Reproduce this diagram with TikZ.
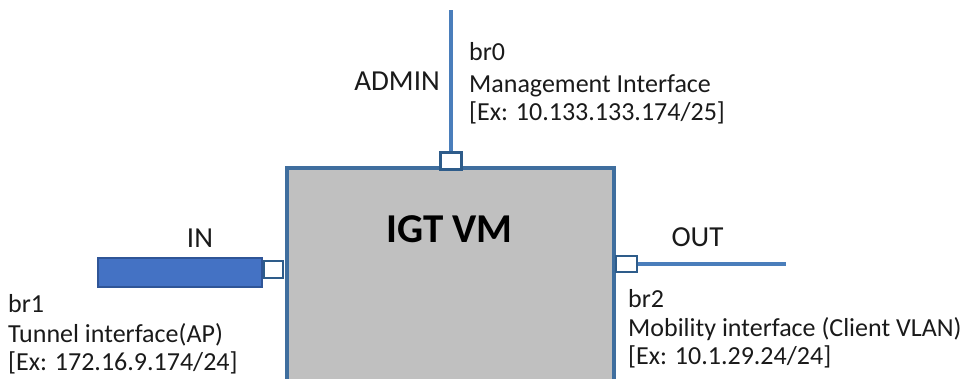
\documentclass[tikz,border=0pt]{standalone}
\usepackage{fontspec}
\setmainfont{Carlito}
\begin{document}
\begin{tikzpicture}[x=1pt,y=-1pt,
  linkline/.style={draw=linkblue,line width=3.5pt},
  port/.style={draw=portblue,fill=white,line width=2.5pt,inner sep=0pt,minimum width=20pt,minimum height=16pt},
  body/.style={anchor=base west,inner sep=0pt,font=\fontsize{26}{30}\selectfont,text=txt},
  biglabel/.style={anchor=base,inner sep=0pt,font=\fontsize{29}{34}\selectfont,text=txt}]
\definecolor{linkblue}{HTML}{4A7EBB}
\definecolor{portblue}{HTML}{2E5C8A}
\definecolor{boxedge}{HTML}{3F6E9E}
\definecolor{boxfill}{HTML}{C0C0C0}
\definecolor{barfill}{HTML}{4472C4}
\definecolor{baredge}{HTML}{2F5597}
\definecolor{txt}{HTML}{1A1A1A}
\useasboundingbox (0,0) rectangle (967,378);
\clip (0,0) rectangle (967,378);
% main VM box
\node[draw=boxedge,fill=boxfill,line width=3.5pt,inner sep=0pt,minimum width=327pt,minimum height=240pt] (vm) at (450.5,288) {};
\node[anchor=base,inner sep=0pt,font=\fontsize{41}{48}\selectfont\bfseries,text=black] (title) at (449.5,242) {IGT VM};
% top port (ADMIN)
\coordinate (topend) at (451,10);
\node[port,minimum width=21pt,minimum height=17pt] (p0) at (451,161) {};
\draw[linkline] (topend) -- (p0.north);
% left port (IN)
\node[port,minimum width=19pt,minimum height=17pt] (p1) at (273.5,269.5) {};
\node[draw=baredge,fill=barfill,line width=2pt,inner sep=0pt,minimum width=164pt,minimum height=29pt] (bar) at (179.5,272) {};
% right port (OUT)
\node[port,minimum width=21pt,minimum height=16pt] (p2) at (626.5,264) {};
\coordinate (rightend) at (786,264);
\draw[linkline] (p2.east) -- (rightend);
% labels
\node[biglabel,anchor=base east] (admin) at (440,90) {ADMIN};
\node[biglabel] (in) at (200,247) {IN};
\node[biglabel] (out) at (697.5,246) {OUT};
\node[body] (br0a) at (469,60) {br0};
\node[body] (br0b) at (469,92) {Management Interface};
\node[body] (br0c) at (469,120) {[Ex: 10.133.133.174/25]};
\node[body] (br1a) at (8,312) {br1};
\node[body] (br1b) at (8,342) {Tunnel interface(AP)};
\node[body] (br1c) at (8,370) {[Ex: 172.16.9.174/24]};
\node[body] (br2a) at (628,307) {br2};
\node[body] (br2b) at (628,336) {Mobility interface (Client VLAN)};
\node[body] (br2c) at (628,364) {[Ex: 10.1.29.24/24]};
\end{tikzpicture}
\end{document}
